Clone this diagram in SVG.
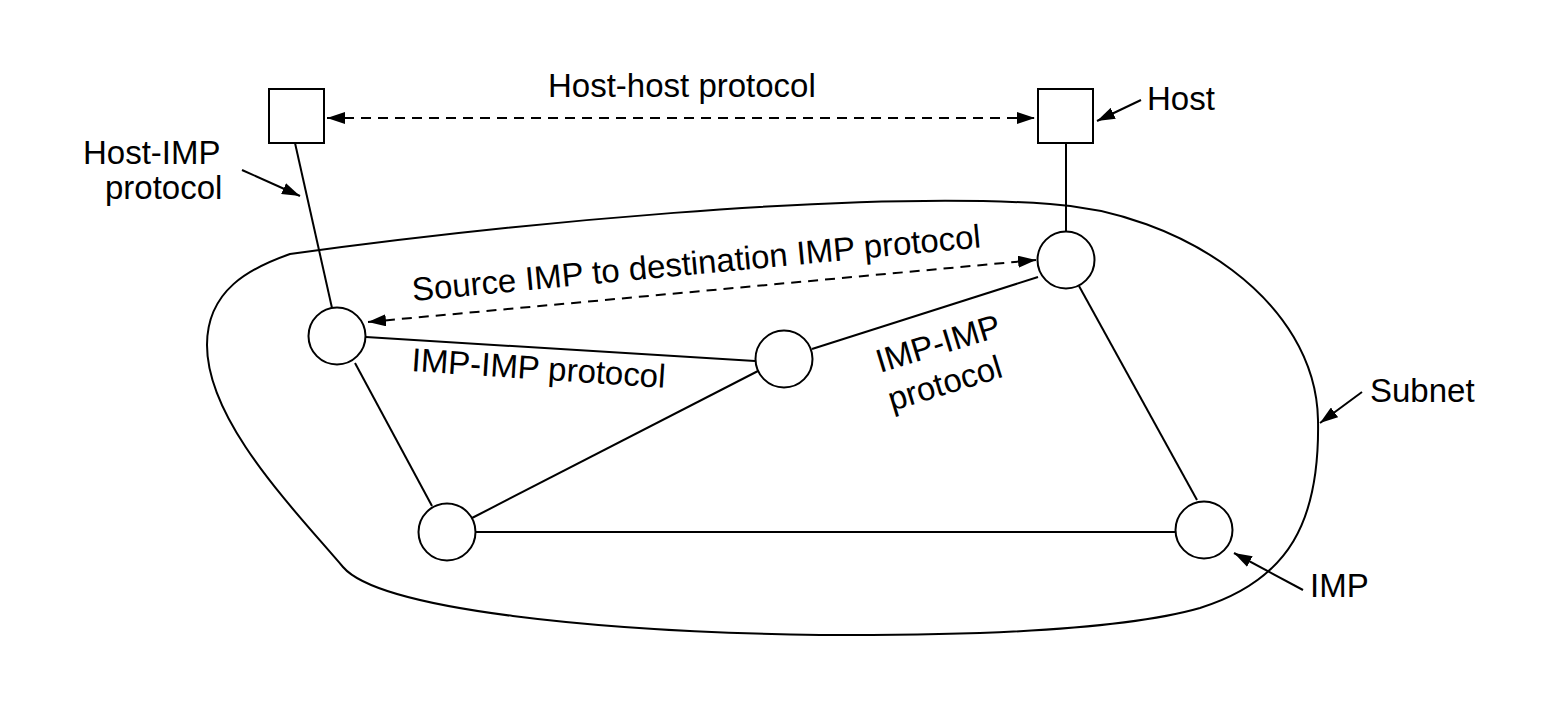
<svg xmlns="http://www.w3.org/2000/svg" width="1558" height="716" viewBox="0 0 1558 716">
<style>
.ln{stroke:#000;stroke-width:2;fill:none}
.ds{stroke:#000;stroke-width:2;fill:none;stroke-dasharray:10 7}
.nd{stroke:#000;stroke-width:2;fill:#fff}
.tx{font-family:"Liberation Sans",Arial,Helvetica,sans-serif;font-size:33px;fill:#000}
</style>
<defs>
<marker id="ah" viewBox="0 0 18 12" refX="18" refY="6" markerWidth="18" markerHeight="12" markerUnits="userSpaceOnUse" orient="auto-start-reverse">
<path d="M0,0 L18,6 L0,12 z" fill="#000"/>
</marker>
</defs>
<rect width="1558" height="716" fill="#fff"/>
<g id="subnet">
<path class="ln" d="M290,254 C500,225 850,190 1050,204 C1180,212 1316,300 1318,420 C1320,520 1290,580 1200,608 C1130,628 1000,636 820,635 C600,632 380,610 343,567 C290,505 207,420 207,345 C207,290 250,268 290,254 Z"/>
</g>
<g id="connectors">
<line class="ln" x1="295" y1="143" x2="332" y2="308"/>
<line class="ln" x1="1066" y1="143" x2="1066" y2="231"/>
<line class="ln" x1="366" y1="337" x2="755" y2="361"/>
<line class="ln" x1="812" y1="349" x2="1038" y2="277"/>
<line class="ln" x1="758" y1="371" x2="472" y2="518"/>
<line class="ln" x1="355" y1="363" x2="432" y2="506"/>
<line class="ln" x1="476" y1="532" x2="1175" y2="532"/>
<line class="ln" x1="1079" y1="286" x2="1197" y2="500"/>
<line class="ds" x1="327" y1="118" x2="1035" y2="118" marker-start="url(#ah)" marker-end="url(#ah)"/>
<line class="ds" x1="368" y1="322" x2="1036" y2="260" marker-start="url(#ah)" marker-end="url(#ah)"/>
<line class="ln" x1="1141" y1="100" x2="1097" y2="121" marker-end="url(#ah)"/>
<line class="ln" x1="242" y1="170" x2="300" y2="196" marker-end="url(#ah)"/>
<line class="ln" x1="1362" y1="392" x2="1320" y2="423" marker-end="url(#ah)"/>
<line class="ln" x1="1303" y1="590" x2="1234" y2="553" marker-end="url(#ah)"/>
</g>
<g id="host-left"><rect class="nd" x="269" y="89" width="55" height="54"/></g>
<g id="host-right"><rect class="nd" x="1038" y="89" width="55" height="54"/></g>
<g id="imp-left"><circle class="nd" cx="337" cy="336" r="28.5"/></g>
<g id="imp-mid"><circle class="nd" cx="784" cy="359" r="28.5"/></g>
<g id="imp-right-top"><circle class="nd" cx="1066" cy="260" r="28.5"/></g>
<g id="imp-bottom-left"><circle class="nd" cx="447" cy="532" r="28.5"/></g>
<g id="imp-bottom-right"><circle class="nd" cx="1204" cy="530" r="28.5"/></g>
<g id="labels">
<text class="tx" x="548" y="97">Host-host protocol</text>
<text class="tx" x="1147" y="110">Host</text>
<text class="tx" x="83" y="164">Host-IMP</text>
<text class="tx" x="105" y="199">protocol</text>
<text class="tx" transform="translate(413,301) rotate(-5.4)">Source IMP to destination IMP protocol</text>
<text class="tx" transform="translate(411,371) rotate(3.8)">IMP-IMP protocol</text>
<text class="tx" transform="translate(880,373) rotate(-17)">IMP-IMP</text>
<text class="tx" transform="translate(892,411) rotate(-17)">protocol</text>
<text class="tx" x="1370" y="402">Subnet</text>
<text class="tx" x="1310" y="597">IMP</text>
</g>
</svg>
